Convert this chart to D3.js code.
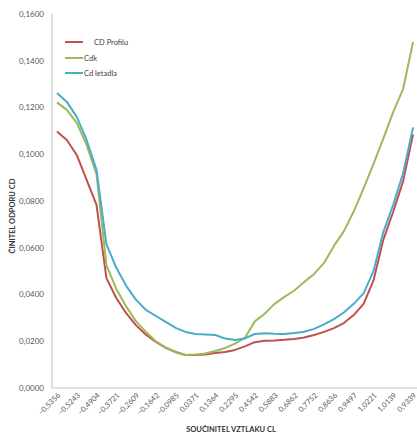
<!DOCTYPE html>
<html>
<head>
<meta charset="utf-8">
<script src="https://cdn.jsdelivr.net/npm/d3@7"></script>
<style>
  html, body { margin: 0; padding: 0; background: #fff; }
  svg { display: block; font-family: Lato, "Liberation Sans", sans-serif; }
</style>
</head>
<body>
<svg id="chart" width="417" height="436"></svg>
<script>
// Lift coefficient CL for each measured point (category axis)
const categories = [
  -0.5356, -0.5301, -0.5243, -0.5102, -0.4904, -0.4388, -0.3721, -0.3158,
  -0.2609, -0.2095, -0.1642, -0.1301, -0.0985, -0.0312, 0.0371, 0.0867,
  0.1364, 0.1831, 0.2295, 0.3402, 0.4542, 0.5236, 0.5883, 0.6391,
  0.6862, 0.7314, 0.7752, 0.8197, 0.8636, 0.9071, 0.9497, 0.9885,
  1.0221, 1.0412, 1.0139, 0.9824, 0.9339
];

// Drag coefficient of the wing section
const cdProfilu = [
  0.1097, 0.1061, 0.0997, 0.0890, 0.0783, 0.0470, 0.0385, 0.0320,
  0.0268, 0.0228, 0.0197, 0.0172, 0.0154, 0.0141, 0.0141, 0.0143,
  0.0150, 0.0154, 0.0163, 0.0178, 0.0196, 0.0202, 0.0203, 0.0206,
  0.0210, 0.0216, 0.0227, 0.0240, 0.0256, 0.0278, 0.0312, 0.0360,
  0.0460, 0.0635, 0.0755, 0.0885, 0.1085
];

// Drag coefficient Cdk
const cdk = [
  0.1222, 0.1190, 0.1134, 0.1040, 0.0915, 0.0526, 0.0424, 0.0349,
  0.0285, 0.0240, 0.0200, 0.0173, 0.0152, 0.0141, 0.0143, 0.0148,
  0.0158, 0.0171, 0.0190, 0.0214, 0.0285, 0.0318, 0.0360, 0.0390,
  0.0417, 0.0454, 0.0488, 0.0535, 0.0608, 0.0670, 0.0755, 0.0854,
  0.0959, 0.1068, 0.1181, 0.1280, 0.1480
];

// Drag coefficient of the whole aircraft
const cdLetadla = [
  0.1262, 0.1224, 0.1160, 0.1061, 0.0933, 0.0616, 0.0514, 0.0437,
  0.0377, 0.0334, 0.0308, 0.0283, 0.0257, 0.0240, 0.0231, 0.0229,
  0.0227, 0.0212, 0.0205, 0.0212, 0.0231, 0.0234, 0.0232, 0.0231,
  0.0235, 0.0241, 0.0253, 0.0272, 0.0295, 0.0323, 0.0360, 0.0405,
  0.0500, 0.0668, 0.0785, 0.0920, 0.1115
];

const seriesNames = ["CD  Profilu", "Cdk", "Cd letadla"];
const seriesColors = ["#C0504D", "#9BBB59", "#4BACC6"];
const yTicks = [0, 0.02, 0.04, 0.06, 0.08, 0.10, 0.12, 0.14, 0.16];
const xTitle = "SOUČINITEL  VZTLAKU CL";
const yTitle = "ČINITEL  ODPORU CD";

const svg = d3.select("#chart");
const plot = { left: 52, right: 418, top: 14, bottom: 388 };

const idx = d3.range(categories.length);
const x = d3.scaleBand().domain(idx).range([plot.left, plot.right]).paddingInner(0).paddingOuter(0);
const cx = i => x(i) + x.bandwidth() / 2;
const y = d3.scaleLinear().domain([0, 0.16]).range([plot.bottom, plot.top]);

const comma = v => d3.format(".4f")(v).replace(".", ",");

// Axes lines
svg.append("line")
  .attr("x1", plot.left).attr("x2", plot.left)
  .attr("y1", plot.top).attr("y2", plot.bottom)
  .attr("stroke", "#c8c8c8").attr("stroke-width", 1.2);
svg.append("line")
  .attr("x1", plot.left).attr("x2", 417)
  .attr("y1", plot.bottom).attr("y2", plot.bottom)
  .attr("stroke", "#c8c8c8").attr("stroke-width", 1.2);

// Y tick labels
svg.append("g").selectAll("text").data(yTicks).join("text")
  .attr("x", 44).attr("y", d => y(d))
  .attr("dy", "0.35em")
  .attr("text-anchor", "end")
  .attr("font-size", 8)
  .attr("fill", "#595959")
  .text(d => comma(d));

// X tick labels (every second category), rotated
svg.append("g").selectAll("text").data(idx.filter(i => i % 2 === 0)).join("text")
  .attr("transform", i => `translate(${cx(i) + 2},${plot.bottom + 6}) rotate(-45)`)
  .attr("text-anchor", "end")
  .attr("dy", "0.35em")
  .attr("font-size", 7.5)
  .attr("fill", "#595959")
  .text(i => comma(categories[i]));

// Axis titles
svg.append("text")
  .attr("x", 231).attr("y", 432)
  .attr("text-anchor", "middle")
  .attr("font-size", 7.5).attr("font-weight", "bold")
  .attr("fill", "#333")
  .text(xTitle);
svg.append("text")
  .attr("transform", "translate(15,216) rotate(-90)")
  .attr("text-anchor", "middle")
  .attr("font-size", 7.5).attr("font-weight", "bold")
  .attr("fill", "#333")
  .text(yTitle);

// Series lines
const series = [cdProfilu, cdk, cdLetadla];
const line = d3.line().x((d, i) => cx(i)).y(d => y(d));
svg.append("g").selectAll("path").data(series).join("path")
  .attr("d", d => line(d))
  .attr("fill", "none")
  .attr("stroke", (d, i) => seriesColors[i])
  .attr("stroke-width", 2)
  .attr("stroke-linejoin", "round");

// Legend
const legend = svg.append("g");
const legendY = [42, 58, 73];
const legendTextX = [94, 84, 84];
seriesNames.forEach((name, i) => {
  legend.append("line")
    .attr("x1", 65).attr("x2", 83)
    .attr("y1", legendY[i]).attr("y2", legendY[i])
    .attr("stroke", seriesColors[i]).attr("stroke-width", 2);
  legend.append("text")
    .attr("x", legendTextX[i]).attr("y", legendY[i])
    .attr("dy", "0.35em")
    .attr("font-size", 7.5)
    .attr("fill", "#404040")
    .text(name);
});
</script>
</body>
</html>
